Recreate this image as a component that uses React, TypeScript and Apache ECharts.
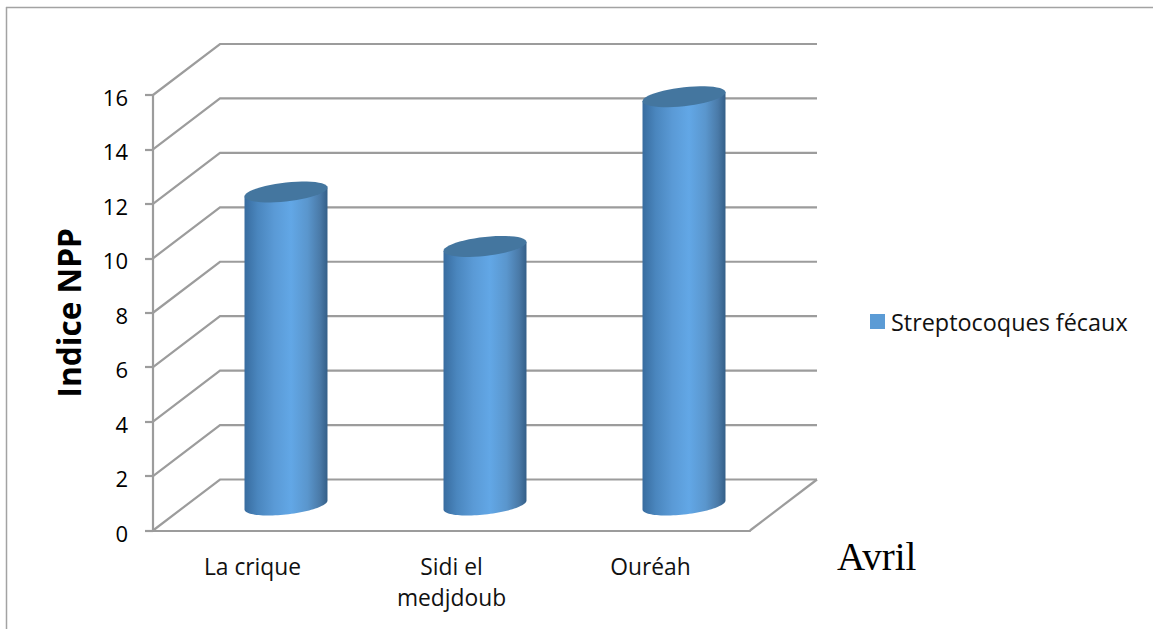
import React, { useEffect, useRef } from "react";
import * as echarts from "echarts";

const categories = ["La crique", "Sidi el\nmedjdoub", "Ouréah"];
const seriesName = "Streptocoques fécaux";
const seriesValues = [11.5, 9.5, 15];
const tickValues = [0, 2, 4, 6, 8, 10, 12, 14, 16];
const yAxisTitle = "Indice NPP";
const monthLabel = "Avril";

const WIDTH = 1153;
const HEIGHT = 629;
const FONT = "'Open Sans', sans-serif";
const LINE = "#9c9c9c";
const LINE_WIDTH = 2.2;
const DEPTH_X = 67;
const DEPTH_Y = 51;

// Tilted ellipse outline used for the cylinder caps and bases.
function ellipsePoints(cx: number, cy: number, a: number, from: number, to: number) {
  const pts: number[][] = [];
  const steps = 48;
  for (let i = 0; i <= steps; i++) {
    const t = from + ((to - from) * i) / steps;
    pts.push([
      cx + a * Math.cos(t),
      cy + a * 0.229 * Math.sin(t) - a * 0.108 * Math.cos(t),
    ]);
  }
  return pts;
}

export default function App() {
  const ref = useRef<HTMLDivElement>(null);

  useEffect(() => {
    const chart = echarts.init(ref.current!, undefined, { renderer: "svg" });

    const renderWall = (params: any, api: any) => {
      const cs = params.coordSys;
      const y = api.coord([0, api.value(1)])[1];
      return {
        type: "polyline",
        silent: true,
        shape: {
          points: [
            [cs.x, y],
            [cs.x + DEPTH_X, y - DEPTH_Y],
            [cs.x + cs.width + DEPTH_X, y - DEPTH_Y],
          ],
        },
        style: { fill: "none", stroke: LINE, lineWidth: LINE_WIDTH },
      };
    };

    const renderFloorEdge = (params: any) => {
      const cs = params.coordSys;
      const yBase = cs.y + cs.height;
      return {
        type: "line",
        silent: true,
        shape: {
          x1: cs.x + cs.width,
          y1: yBase,
          x2: cs.x + cs.width + DEPTH_X,
          y2: yBase - DEPTH_Y,
        },
        style: { stroke: LINE, lineWidth: LINE_WIDTH },
      };
    };

    const renderCylinder = (_params: any, api: any) => {
      const base = api.coord([api.value(0), 0]);
      const top = api.coord([api.value(0), api.value(1)]);
      const a = api.size([1, 0])[0] * 0.2085;
      const cx = base[0] + DEPTH_X / 2;
      const yBase = base[1] - DEPTH_Y / 2;
      const yTop = top[1] - DEPTH_Y / 2;
      const lower = ellipsePoints(cx, yBase, a, Math.PI, 0);
      const body = [
        ...ellipsePoints(cx, yTop, a, Math.PI, Math.PI).slice(0, 1),
        ...lower,
        ...ellipsePoints(cx, yTop, a, 0, 0).slice(0, 1),
      ];
      return {
        type: "group",
        children: [
          {
            type: "polygon",
            shape: { points: body },
            style: {
              fill: new echarts.graphic.LinearGradient(0, 0, 1, 0, [
                { offset: 0, color: "#386c9f" },
                { offset: 0.16, color: "#4a86be" },
                { offset: 0.36, color: "#5a9ad6" },
                { offset: 0.56, color: "#62a7e6" },
                { offset: 0.76, color: "#5a96cd" },
                { offset: 0.91, color: "#4a7aa8" },
                { offset: 1, color: "#345f88" },
              ]),
            },
          },
          {
            type: "polygon",
            shape: { points: ellipsePoints(cx, yTop, a, 0, Math.PI * 2) },
            style: { fill: "#44769f" },
          },
        ],
      };
    };

    chart.setOption({
      animation: false,
      backgroundColor: "#ffffff",
      grid: { left: 153, top: 95, width: 597, height: 435.5, containLabel: false },
      legend: {
        data: [seriesName],
        left: 870,
        top: 310,
        padding: 0,
        icon: "rect",
        itemWidth: 15,
        itemHeight: 15,
        itemGap: 0,
        selectedMode: false,
        itemStyle: { color: "#5b9bd5" },
        textStyle: { fontFamily: FONT, fontSize: 23.4, color: "#111111", padding: [0, 0, 0, 1] },
      },
      xAxis: {
        type: "category",
        data: categories,
        axisTick: { show: false },
        axisLine: { lineStyle: { color: LINE, width: LINE_WIDTH } },
        axisLabel: {
          margin: 20,
          interval: 0,
          fontFamily: FONT,
          fontSize: 22.8,
          lineHeight: 31,
          color: "#111111",
        },
      },
      yAxis: {
        type: "value",
        min: 0,
        max: 16,
        interval: 2,
        name: yAxisTitle,
        nameLocation: "middle",
        nameGap: 68.5,
        nameTextStyle: { fontFamily: FONT, fontSize: 31.6, fontWeight: "bold", color: "#000000" },
        axisLine: { show: true, lineStyle: { color: LINE, width: LINE_WIDTH } },
        axisTick: { show: true, length: 8, lineStyle: { color: LINE, width: LINE_WIDTH } },
        splitLine: { show: false },
        axisLabel: {
          margin: 25,
          fontFamily: FONT,
          fontSize: 22,
          color: "#000000",
          verticalAlign: "top",
          lineHeight: 4,
          formatter: (v: number) => (tickValues.includes(v) ? String(v) : ""),
        },
      },
      series: [
        {
          name: "walls",
          type: "custom",
          coordinateSystem: "cartesian2d",
          renderItem: renderWall,
          data: tickValues.map((v) => [0, v]),
          encode: { x: 0, y: 1 },
          silent: true,
          z: 1,
        },
        {
          name: "floor",
          type: "custom",
          coordinateSystem: "cartesian2d",
          renderItem: renderFloorEdge,
          data: [[0, 0]],
          encode: { x: 0, y: 1 },
          silent: true,
          z: 1,
        },
        {
          name: seriesName,
          type: "custom",
          coordinateSystem: "cartesian2d",
          renderItem: renderCylinder,
          data: seriesValues.map((v, i) => [i, v]),
          encode: { x: 0, y: 1 },
          itemStyle: { color: "#5b9bd5" },
          z: 3,
        },
      ],
      graphic: [
        {
          type: "line",
          silent: true,
          shape: { x1: 6, y1: 7.5, x2: WIDTH, y2: 7.5 },
          style: { stroke: "#a3a3a3", lineWidth: 1.5 },
        },
        {
          type: "line",
          silent: true,
          shape: { x1: 6.5, y1: 7, x2: 6.5, y2: HEIGHT },
          style: { stroke: "#a3a3a3", lineWidth: 1.5 },
        },
        {
          type: "text",
          left: 837,
          top: 537,
          style: {
            text: monthLabel,
            fontFamily: "'Liberation Serif', serif",
            fontSize: 39,
            fill: "#000000",
          },
        },
      ],
    });

    return () => chart.dispose();
  }, []);

  return (
    <div
      ref={ref}
      style={{ position: "fixed", left: 0, top: 0, width: WIDTH, height: HEIGHT }}
    />
  );
}
